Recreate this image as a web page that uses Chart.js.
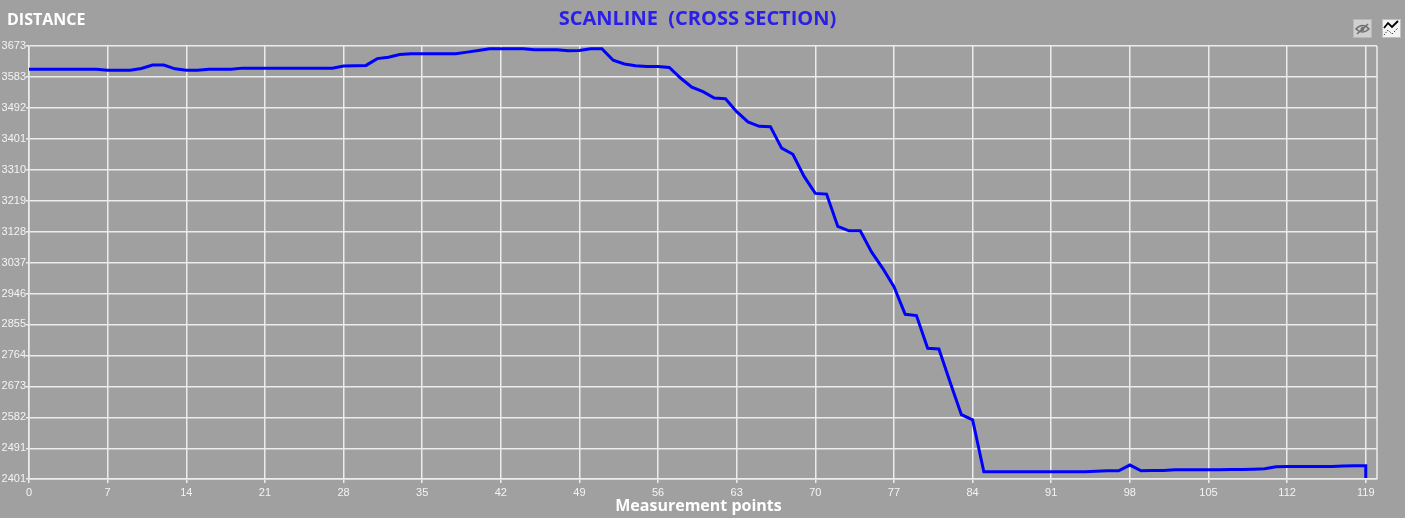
<!DOCTYPE html>
<html>
<head>
<meta charset="utf-8">
<script src="https://cdn.jsdelivr.net/npm/chart.js@4.4.1/dist/chart.umd.min.js"></script>
<style>
  html, body { margin: 0; padding: 0; background: #a0a0a0; }
  #wrap { position: relative; width: 1405px; height: 518px; background: #a0a0a0; overflow: hidden; }
  #chart { position: absolute; left: 0; top: 0; }
  .lbl { position: absolute; font-family: "Open Sans", sans-serif; font-weight: bold; white-space: pre; }
  #distance { left: 7px; top: 8px; font-size: 16px; color: #ffffff; }
  #title { left: 0; width: 1395px; top: 4px; text-align: center; font-size: 20px; color: #2a1ee8; }
  #xtitle { left: 0; width: 1397px; top: 494px; text-align: center; font-size: 16px; color: #ffffff; }
  .icon { position: absolute; top: 19px; width: 19px; height: 19px; }
</style>
</head>
<body>
<div id="wrap">
  <canvas id="chart" width="1405" height="518"></canvas>
  <div class="lbl" id="distance">DISTANCE</div>
  <div class="lbl" id="title">SCANLINE  (CROSS SECTION)</div>
  <div class="lbl" id="xtitle">Measurement points</div>
  <svg class="icon" style="left:1353px" viewBox="0 0 19 19">
    <rect x="0.5" y="0.5" width="18" height="18" fill="#d0d0d0" stroke="#b8b8b8"/>
    <path d="M3 10 Q9.5 3 16 10 Q9.5 16 3 10 Z" fill="none" stroke="#707070" stroke-width="1.6"/>
    <circle cx="9.5" cy="10" r="2" fill="#707070"/>
    <line x1="4" y1="15" x2="15" y2="5" stroke="#707070" stroke-width="1.6"/>
  </svg>
  <svg class="icon" style="left:1382px" viewBox="0 0 19 19">
    <rect x="0.5" y="0.5" width="18" height="18" fill="#f4f4f4" stroke="#c0c0c0"/>
    <polyline points="2,9 6,4 10,8 16,2" fill="none" stroke="#000" stroke-width="1.8"/>
    <polyline points="2,16 6,11 10,15 16,9" fill="none" stroke="#000" stroke-width="1" stroke-dasharray="1,1.5"/>
  </svg>
</div>
<script>
const pointIdx = [
  0, 1, 2, 3, 4, 5, 6, 7, 8, 9,
  10, 11, 12, 13, 14, 15, 16, 17, 18, 19,
  20, 21, 22, 23, 24, 25, 26, 27, 28, 29,
  30, 31, 32, 33, 34, 35, 36, 37, 38, 39,
  40, 41, 42, 43, 44, 45, 46, 47, 48, 49,
  50, 51, 52, 53, 54, 55, 56, 57, 58, 59,
  60, 61, 62, 63, 64, 65, 66, 67, 68, 69,
  70, 71, 72, 73, 74, 75, 76, 77, 78, 79,
  80, 81, 82, 83, 84, 85, 86, 87, 88, 89,
  90, 91, 92, 93, 94, 95, 96, 97, 98, 99,
  100, 101, 102, 103, 104, 105, 106, 107, 108, 109,
  110, 111, 112, 113, 114, 115, 116, 117, 118, 119,
  119
];
const distance = [
  3605, 3605, 3605, 3605, 3605, 3605, 3605, 3602, 3602, 3602,
  3607, 3617, 3617, 3606, 3602, 3602, 3605, 3605, 3605, 3608,
  3608, 3608, 3608, 3608, 3608, 3608, 3608, 3608, 3614, 3615,
  3616, 3636, 3640, 3648, 3650, 3650, 3650, 3650, 3650, 3655,
  3660, 3665, 3665, 3665, 3665, 3662, 3662, 3662, 3659, 3660,
  3665, 3665, 3631, 3620, 3615, 3613, 3613, 3610, 3579, 3552,
  3539, 3520, 3518, 3480, 3450, 3437, 3436, 3373, 3355, 3290,
  3240, 3238, 3143, 3130, 3130, 3068, 3020, 2966, 2885, 2881,
  2785, 2783, 2685, 2590, 2575, 2422, 2422, 2422, 2422, 2422,
  2422, 2422, 2422, 2422, 2422, 2424, 2425, 2425, 2442, 2425,
  2426, 2426, 2428, 2428, 2428, 2428, 2428, 2429, 2429, 2430,
  2431, 2437, 2438, 2438, 2438, 2438, 2438, 2439, 2440, 2440,
  2404
];
const xTicks = [0, 7, 14, 21, 28, 35, 42, 49, 56, 63, 70, 77, 84, 91, 98, 105, 112, 119];
const yTicks = [2401, 2491, 2582, 2673, 2764, 2855, 2946, 3037, 3128, 3219, 3310, 3401, 3492, 3583, 3673];

const points = pointIdx.map((x, i) => ({ x: x, y: distance[i] }));

const tickFont = { family: "'Liberation Sans', Arial, sans-serif", size: 11 };
const gridColor = "#ececec";

// right edge of the plot frame
const frame = {
  id: "frame",
  afterDraw(chart) {
    const a = chart.chartArea;
    const ctx = chart.ctx;
    ctx.save();
    ctx.strokeStyle = gridColor;
    ctx.lineWidth = 1.5;
    ctx.beginPath();
    ctx.moveTo(a.right, a.top);
    ctx.lineTo(a.right, a.bottom);
    ctx.stroke();
    ctx.restore();
  }
};

new Chart(document.getElementById("chart"), {
  type: "line",
  data: {
    datasets: [{
      data: points,
      borderColor: "#0000ff",
      borderWidth: 3,
      pointRadius: 0,
      tension: 0,
      fill: false
    }]
  },
  options: {
    responsive: false,
    animation: false,
    layout: { padding: { top: 46, right: 28, left: 0, bottom: 0 } },
    plugins: { legend: { display: false }, tooltip: { enabled: false } },
    scales: {
      x: {
        type: "linear",
        min: 0,
        max: 120,
        afterFit: (s) => { s.height = 39; },
        afterBuildTicks: (s) => { s.ticks = xTicks.map(v => ({ value: v })); },
        grid: { color: gridColor, lineWidth: 1.5, tickLength: 4 },
        border: { color: gridColor, width: 1.5 },
        ticks: { color: "#f4f4f4", font: tickFont, padding: 3, maxRotation: 0, autoSkip: false,
                 callback: (v) => String(v) }
      },
      y: {
        min: 2401,
        max: 3673,
        afterFit: (s) => { s.width = 29; },
        afterBuildTicks: (s) => { s.ticks = yTicks.map(v => ({ value: v })); },
        grid: { color: gridColor, lineWidth: 1.5, tickLength: 3 },
        border: { color: gridColor, width: 1.5 },
        ticks: { color: "#f4f4f4", font: tickFont, padding: 0, autoSkip: false,
                 callback: (v) => String(v) }
      }
    }
  },
  plugins: [frame]
});
</script>
</body>
</html>
